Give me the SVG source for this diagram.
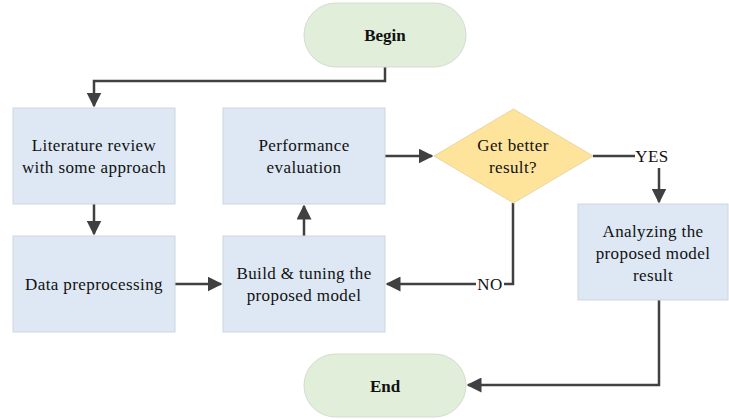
<svg xmlns="http://www.w3.org/2000/svg" width="729" height="419" viewBox="0 0 729 419">
<style>
.box{fill:#dde8f4;stroke:#cdd6df;stroke-width:1}
.term{fill:#e1eed9;stroke:#d3dccd;stroke-width:1}
.dia{fill:#fee39b;stroke:#e8d7a6;stroke-width:1}
.c{fill:none;stroke:#404040;stroke-width:2.5}
</style>
<defs>
<marker id="ah" viewBox="0 0 10 10" refX="9" refY="5" markerWidth="6" markerHeight="6" markerUnits="strokeWidth" orient="auto">
<path d="M0,0 L10,5 L0,10 Z" fill="#404040"/>
</marker>
</defs>
<rect width="729" height="419" fill="#fff"/>
<g id="connectors">
<path class="c" d="M385,67 V81 H94 V106" marker-end="url(#ah)"/>
<path class="c" d="M94,204 V234" marker-end="url(#ah)"/>
<path class="c" d="M175,284 H221" marker-end="url(#ah)"/>
<path class="c" d="M304,236 V206" marker-end="url(#ah)"/>
<path class="c" d="M385,156 H432" marker-end="url(#ah)"/>
<path class="c" d="M593,156 H635"/>
<path class="c" d="M659,168 V202" marker-end="url(#ah)"/>
<path class="c" d="M513,203 V284 H504"/>
<path class="c" d="M476,284 H387" marker-end="url(#ah)"/>
<path class="c" d="M659,300 V385 H468" marker-end="url(#ah)"/>
</g>
<g font-family="Liberation Serif" font-size="17" letter-spacing="0.4" fill="#111" text-anchor="middle" dominant-baseline="central">
<g id="labels">
<text x="652" y="156" style="font-family:Liberation Serif">YES</text>
<text x="490" y="284" style="font-family:Liberation Serif">NO</text>
</g>
<g id="begin"><rect class="term" x="304" y="3" width="162" height="64" rx="32"/><text x="385" y="35" font-weight="bold" letter-spacing="0" style="font-family:Liberation Serif">Begin</text></g>
<g id="literature"><rect class="box" x="13" y="108" width="162" height="96"/><text x="94" y="145" style="font-family:Liberation Serif">Literature review</text><text x="94" y="167" style="font-family:Liberation Serif">with some approach</text></g>
<g id="data"><rect class="box" x="13" y="236" width="162" height="96"/><text x="94" y="284" style="font-family:Liberation Serif">Data preprocessing</text></g>
<g id="performance"><rect class="box" x="223" y="108" width="162" height="96"/><text x="304" y="145" style="font-family:Liberation Serif">Performance</text><text x="304" y="167" style="font-family:Liberation Serif">evaluation</text></g>
<g id="build"><rect class="box" x="223" y="236" width="162" height="96"/><text x="304" y="273" style="font-family:Liberation Serif">Build &amp; tuning the</text><text x="304" y="295" style="font-family:Liberation Serif">proposed model</text></g>
<g id="decision"><polygon class="dia" points="513.5,109 593,156 513.5,203 434,156"/><text x="513" y="145" style="font-family:Liberation Serif">Get better</text><text x="513" y="167" style="font-family:Liberation Serif">result?</text></g>
<g id="analyzing"><rect class="box" x="578" y="204" width="150" height="96"/><text x="653" y="231" style="font-family:Liberation Serif">Analyzing the</text><text x="653" y="253" style="font-family:Liberation Serif">proposed model</text><text x="653" y="275" style="font-family:Liberation Serif">result</text></g>
<g id="end"><rect class="term" x="304" y="354" width="162" height="63" rx="31.5"/><text x="385" y="386" font-weight="bold" letter-spacing="0" style="font-family:Liberation Serif">End</text></g>
</g>
</svg>
